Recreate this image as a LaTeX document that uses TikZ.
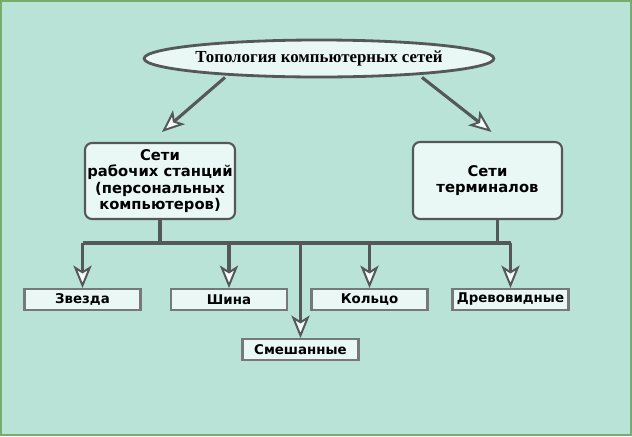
\documentclass[tikz,border=0pt]{standalone}
\usepackage{fontspec}
\setmainfont{Liberation Serif}
\setsansfont{DejaVu Sans}
\usetikzlibrary{arrows.meta,shapes.geometric}
\definecolor{bgcol}{RGB}{186,227,216}
\definecolor{framecol}{RGB}{118,172,108}
\definecolor{boxfill}{RGB}{233,248,245}
\definecolor{linecol}{RGB}{85,88,88}
\begin{document}
\begin{tikzpicture}[x=0.025cm,y=-0.025cm,font=\fontsize{9.5}{11.5}\selectfont\sffamily\bfseries,
  box/.style={draw=linecol,fill=boxfill,line width=1.5pt,rounded corners=5pt,align=center,inner sep=0pt,font=\fontsize{10.5}{11.8}\selectfont\sffamily\bfseries},
  leaf/.style={draw=linecol!80,fill=boxfill,line width=1.5pt,inner sep=0pt,minimum width=2.9cm,minimum height=0.52cm},
  wire/.style={draw=linecol,line width=2.2pt},
  arr/.style={wire,-{Stealth[length=16pt,width=13pt,inset=4pt,fill=white!50!boxfill,line width=1.4pt]}}]
\useasboundingbox (0,0) rectangle (632,436);
\path[fill=bgcol,draw=framecol,line width=1.5pt] (1,1) rectangle (631,435);
\path (319,58.5) node(topo) [draw=linecol,fill=boxfill,line width=2pt,shape=ellipse,inner sep=0pt,minimum width=8.65cm,minimum height=0.925cm,font=\rmfamily\bfseries\fontsize{12}{14}\selectfont] {Топология компьютерных сетей};
\path (160,181) node(work) [box,minimum width=3.75cm,minimum height=1.9cm] {Сети\\рабочих станций\\(персональных\\компьютеров)};
\path (487.5,180.5) node(term) [box,minimum width=3.725cm,minimum height=1.925cm] {Сети\\терминалов};
\path (82.5,299.5) node(star) [leaf] {Звезда};
\path (229,299.5) node(shina) [leaf] {Шина};
\path (369.5,299.5) node(ring) [leaf] {Кольцо};
\path (510.5,299.5) node(tree) [leaf] {Древовидные};
\path (300.5,349.5) node(mixed) [leaf] {Смешанные};
\coordinate (bus) at (0,243);
\draw[arr] ([shift={(-94,-1)}]topo.south) -- ([shift={(2,-10)}]work.north);
\draw[arr] ([shift={(103,-1)}]topo.south) -- ([shift={(4,-9)}]term.north);
\draw[wire] (work.south) -- (work.south |- bus);
\draw[wire] ([xshift=7]term.south) -- ([xshift=7]term.south |- bus);
\draw[wire] (star.north |- bus) -- (tree.north |- bus);
\draw[arr] (star.north |- bus) -- (star.north);
\draw[arr] (shina.north |- bus) -- (shina.north);
\draw[arr] (ring.north |- bus) -- (ring.north);
\draw[arr] (tree.north |- bus) -- (tree.north);
\draw[arr] (mixed.north |- bus) -- (mixed.north);
\end{tikzpicture}
\end{document}
